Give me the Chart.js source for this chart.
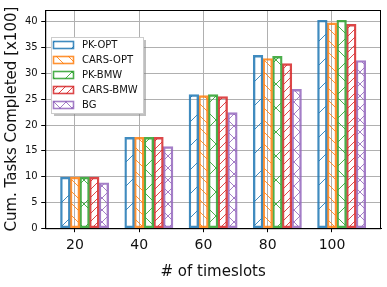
<!DOCTYPE html>
<html>
<head>
<meta charset="utf-8">
<script src="https://cdn.jsdelivr.net/npm/chart.js@4.4.0/dist/chart.umd.min.js"></script>
<style>
  html, body { margin: 0; padding: 0; background: #fff; }
  #wrap { width: 387px; height: 287px; }
</style>
</head>
<body>
<div id="wrap"><canvas id="chart" width="387" height="287"></canvas></div>
<script>
const categories = ["20", "40", "60", "80", "100"];
const seriesNames = ["PK-OPT", "CARS-OPT", "PK-BMW", "CARS-BMW", "BG"];
const pkOpt   = [9.9, 17.6, 25.9, 33.5, 40.3];
const carsOpt = [9.9, 17.6, 25.7, 32.9, 39.8];
const pkBmw   = [9.9, 17.6, 25.9, 33.3, 40.3];
const carsBmw = [9.9, 17.6, 25.5, 31.9, 39.5];
const bg      = [8.8, 15.8, 22.4, 26.9, 32.5];
const yTicks  = [0, 5, 10, 15, 20, 25, 30, 35, 40];

const seriesValues = [pkOpt, carsOpt, pkBmw, carsBmw, bg];
const colors = ["rgba(31,119,180,0.85)", "rgba(255,127,14,0.85)", "rgba(44,160,44,0.85)",
                "rgba(214,39,40,0.85)", "rgba(148,103,189,0.85)"];
// hatch: which directions and tile size in px
const hatches = [
    { fwd: true,  back: false, size: 24 },   // '/'
    { fwd: false, back: true,  size: 12 },   // '\\'
    { fwd: true,  back: true,  size: 24 },   // 'x'
    { fwd: true,  back: false, size: 8 },    // '///'
    { fwd: true,  back: true,  size: 12 },   // 'xx'
];
const barW = 0.15;

const makePattern = (color, h) => {
    const c = document.createElement("canvas");
    c.width = h.size;
    c.height = h.size;
    const g = c.getContext("2d");
    const s = h.size;
    g.strokeStyle = color;
    g.lineWidth = 1;
    for (let k = -1; k <= 1; k++) {
        if (h.fwd) {
            g.beginPath();
            g.moveTo(k * s, s);
            g.lineTo(k * s + s, 0);
            g.stroke();
        }
        if (h.back) {
            g.beginPath();
            g.moveTo(k * s, 0);
            g.lineTo(k * s + s, s);
            g.stroke();
        }
    }
    return g.createPattern(c, "repeat");
};

const patterns = colors.map((c, i) => makePattern(c, hatches[i]));

const datasets = seriesNames.map((name, k) => ({
    label: name,
    data: seriesValues[k].map((v, i) => ({ x: i + (k - 1) * barW, y: v })),
    backgroundColor: patterns[k],
    borderColor: colors[k],
    borderWidth: 1.7,
    borderSkipped: false,
    grouped: false,
    categoryPercentage: 1,
    barPercentage: 1,
}));

const framePlugin = {
    id: "frame",
    afterDatasetsDraw(chart) {
        const { ctx, chartArea: a } = chart;
        ctx.save();
        ctx.strokeStyle = "#000";
        ctx.lineWidth = 1;
        ctx.strokeRect(a.left + 0.5, a.top + 0.5, a.right - a.left - 1, a.bottom - a.top);
        ctx.restore();
    }
};

const legendPlugin = {
    id: "boxLegend",
    afterDraw(chart) {
        const ctx = chart.ctx;
        const x0 = 51, y0 = 37, w = 92, h = 76;
        ctx.save();
        ctx.fillStyle = "rgba(128,128,128,0.5)";
        ctx.fillRect(x0 + 3, y0 + 3, w, h);
        ctx.fillStyle = "#fff";
        ctx.fillRect(x0, y0, w, h);
        ctx.strokeStyle = "#cccccc";
        ctx.lineWidth = 1;
        ctx.strokeRect(x0 + 0.5, y0 + 0.5, w, h);
        ctx.font = "10px 'DejaVu Sans'";
        ctx.textBaseline = "middle";
        chart.data.datasets.forEach((ds, k) => {
            const cy = y0 + 8 + k * 15;
            ctx.fillStyle = ds.backgroundColor;
            ctx.fillRect(x0 + 2, cy - 4, 21, 8);
            ctx.strokeStyle = ds.borderColor;
            ctx.lineWidth = 1.6;
            ctx.strokeRect(x0 + 2.5, cy - 3.5, 20, 7);
            ctx.fillStyle = "#111";
            ctx.fillText(ds.label, x0 + 31, cy + 0.5);
        });
        ctx.restore();
    }
};

new Chart(document.getElementById("chart"), {
    type: "bar",
    data: { datasets },
    plugins: [framePlugin, legendPlugin],
    options: {
        responsive: false,
        animation: false,
        layout: { padding: { top: 10, right: 6, left: 3.5, bottom: 6 } },
        plugins: {
            legend: { display: false },
            tooltip: { enabled: false },
        },
        scales: {
            x: {
                type: "linear",
                offset: false,
                min: -0.4625,
                max: 4.7625,
                afterBuildTicks: (s) => { s.ticks = categories.map((_, i) => ({ value: i })); },
                ticks: {
                    callback: (v) => categories[v],
                    font: { family: "DejaVu Sans", size: 14 },
                    color: "#111",
                    padding: 5,
                    maxRotation: 0,
                },
                grid: { offset: false, color: "#b0b0b0", lineWidth: 1, tickColor: "#000", tickLength: 4 },
                border: { color: "#000" },
                title: {
                    display: true,
                    text: "# of timeslots",
                    font: { family: "DejaVu Sans", size: 15 },
                    color: "#111",
                    padding: { top: 4, bottom: 0 },
                },
            },
            y: {
                min: 0,
                max: 42.3,
                afterBuildTicks: (s) => { s.ticks = yTicks.map(v => ({ value: v })); },
                ticks: {
                    font: { family: "DejaVu Sans", size: 10 },
                    color: "#111",
                    padding: 3.5,
                },
                grid: { color: "#b0b0b0", lineWidth: 1, tickColor: "#000", tickLength: 4 },
                border: { color: "#000" },
                title: {
                    display: true,
                    text: "Cum. Tasks Completed [x100]",
                    font: { family: "DejaVu Sans", size: 15 },
                    color: "#111",
                    padding: { top: 0, bottom: 0 },
                },
            },
        },
    },
});
</script>
</body>
</html>
